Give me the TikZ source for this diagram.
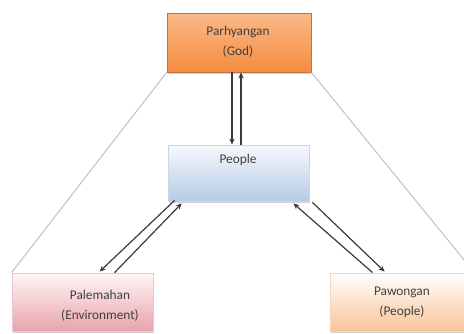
\documentclass[tikz,border=0pt]{standalone}
\usepackage{fontspec}
\setmainfont{Carlito}
\usetikzlibrary{arrows.meta,calc,shadows}
\definecolor{orTop}{HTML}{FBB98A}
\definecolor{orBot}{HTML}{F58C3E}
\definecolor{orLine}{HTML}{B8764A}
\definecolor{blTop}{HTML}{F6F9FD}
\definecolor{blBot}{HTML}{B7CBE5}
\definecolor{blLine}{HTML}{C9D6E6}
\definecolor{pkTop}{HTML}{FFF6F6}
\definecolor{pkBot}{HTML}{E9A3AC}
\definecolor{pkLine}{HTML}{E8C8CC}
\definecolor{peTop}{HTML}{FFFFFF}
\definecolor{peBot}{HTML}{F9C497}
\definecolor{peLine}{HTML}{F2D6BE}
\definecolor{txtCol}{HTML}{404040}
\definecolor{triCol}{HTML}{BDBDBD}
\definecolor{arrCol}{HTML}{3A3A3A}
\begin{document}
\begin{tikzpicture}[x=0.75pt,y=-0.75pt,
  box/.style={rectangle, inner sep=0pt, line width=0.6pt,
    drop shadow={shadow xshift=0.4pt, shadow yshift=-1.2pt, opacity=0.35}},
  txt/.style={align=center, text=txtCol, inner sep=0pt,
    font=\fontsize{10}{15}\selectfont},
  tri/.style={draw=triCol, line width=0.7pt},
  arr/.style={draw=arrCol, line width=0.9pt, -{Stealth[length=4.5pt,width=4pt]}}]
\useasboundingbox (0,0) rectangle (464,333);
% boxes
\node[box, top color=orTop, bottom color=orBot, draw=orLine,
  minimum width=108pt, minimum height=44.25pt] (god) at (239,42.5) {};
\node[box, top color=blTop, bottom color=blBot, draw=blLine,
  minimum width=105.75pt, minimum height=42pt] (people) at (238.5,173) {};
\node[box, top color=pkTop, bottom color=pkBot, draw=pkLine,
  minimum width=105.75pt, minimum height=43.5pt] (pal) at (82.5,302) {};
\node[box, top color=peTop, bottom color=peBot, draw=peLine,
  minimum width=108pt, minimum height=43.5pt] (paw) at (402,302) {};
% texts
\node[txt] (godt) at (238,42) {Parhyangan\\(God)};
\node[txt] (peoplet) at (238,160) {People};
\node[txt] (palt) at (100,306) {Palemahan\\(Environment)};
\node[txt] (pawt) at (402,302) {Pawongan\\(People)};
% triangle lines
\draw[tri] (god.south west) -- (pal.north west);
\draw[tri] (god.south east) -- (paw.north east);
% arrows
\draw[arr] ($(god.south)+(-7,0)$) -- ($(people.north)+(-6.5,0)$);
\draw[arr] ($(people.north)+(2.5,0)$) -- ($(god.south)+(2,0)$);
\draw[arr] ($(people.south west)+(7,-1)$) -- ($(pal.north west)+(88,-1)$);
\draw[arr] ($(pal.north west)+(103,0)$) -- ($(people.south west)+(14,2)$);
\draw[arr] ($(paw.north west)+(43,0)$) -- ($(people.south east)+(-16,2)$);
\draw[arr] ($(people.south east)+(3,1)$) -- ($(paw.north west)+(55,-1)$);
\end{tikzpicture}
\end{document}
